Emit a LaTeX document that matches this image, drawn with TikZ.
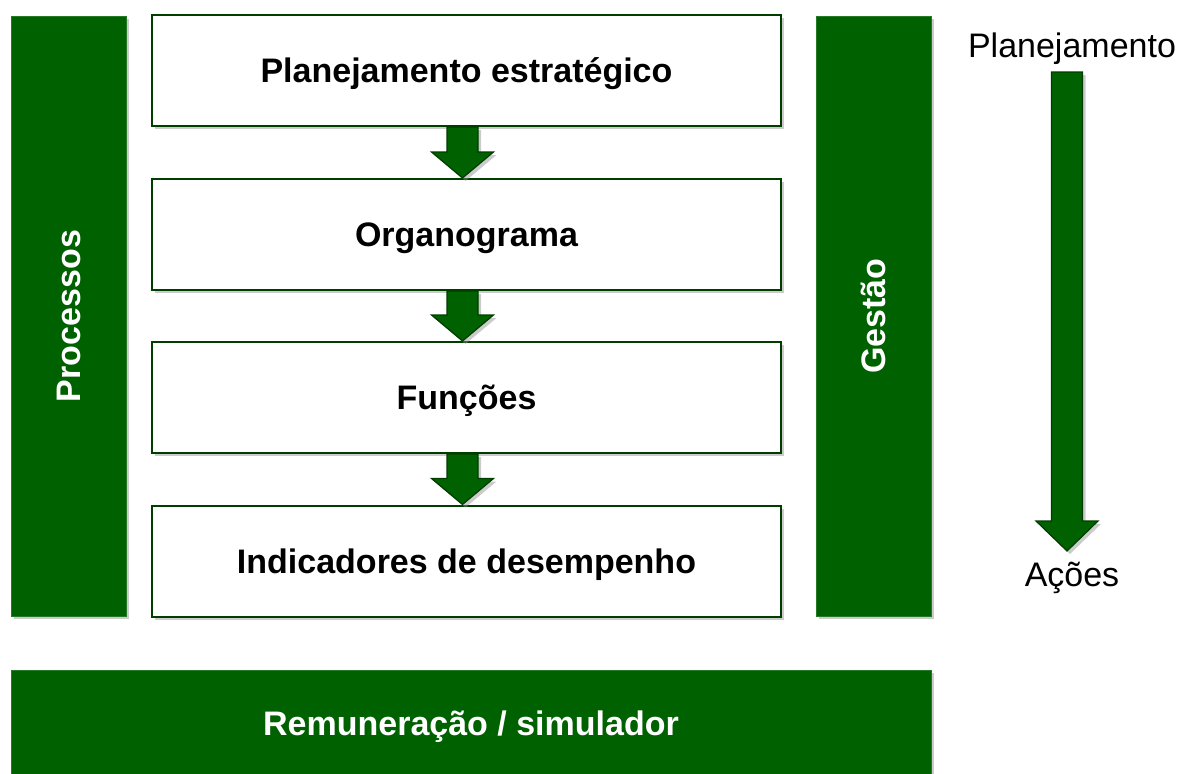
\documentclass[tikz,border=0pt]{standalone}
\usepackage{fontspec}
\setmainfont{Liberation Sans}
\usetikzlibrary{calc,shadows}

\definecolor{barGreen}{RGB}{0,97,0}
\definecolor{edgeGreen}{RGB}{0,62,0}

% block arrow from one anchor down to another (head length as #3, x offset as #4)
\newcommand{\flowarrow}[4]{%
  \path[flow] let \p1=(#1), \p2=(#2) in
    (\x1+#4-15.5pt,\y1) -- (\x1+#4+15.5pt,\y1) -- (\x1+#4+15.5pt,\y2+#3)
    -- (\x1+#4+31pt,\y2+#3) -- (\x1+#4,\y2) -- (\x1+#4-31pt,\y2+#3)
    -- (\x1+#4-15.5pt,\y2+#3) -- cycle;}

\begin{document}
\begin{tikzpicture}[x=1pt, y=-1pt,
    shade/.style={drop shadow={shadow xshift=3pt, shadow yshift=-3pt, fill=black!45, opacity=0.45}},
    bar/.style={shade, fill=barGreen, draw=barGreen!85!white, line width=0.6pt, inner sep=0pt,
      text=white, text depth=0pt, font=\fontsize{34}{40}\selectfont\bfseries},
    stepbox/.style={shade, fill=white, draw=edgeGreen, line width=2pt, inner sep=0pt, text depth=0pt,
      minimum width=629pt, minimum height=111pt, font=\fontsize{34}{40}\selectfont\bfseries},
    flow/.style={shade, fill=barGreen, draw=edgeGreen, line width=1.2pt, line join=miter},
    plain/.style={font=\fontsize{34}{40}\selectfont, inner sep=0pt},
    sidelabel/.style={rotate=90, text=white, text depth=0pt, font=\fontsize{34}{40}\selectfont\bfseries}]

    \useasboundingbox (0,0) rectangle (1184,774);

    % Side bars
    \node[bar, minimum width=115pt, minimum height=600pt] (processos) at (68.5,316) {};
    \node[sidelabel] at (processos.center) {Processos};
    \node[bar, minimum width=115pt, minimum height=600pt] (gestao) at (873.5,316) {};
    \node[sidelabel] at (gestao.center) {Gestão};

    % Bottom bar
    \node[bar, minimum width=920pt, minimum height=106pt] (remun) at (471,723) {Remuneração / simulador};

    % Steps
    \node[stepbox] (plano) at (466.5,70.5) {Planejamento estratégico};
    \node[stepbox] (organo) at (466.5,234.5) {Organograma};
    \node[stepbox] (funcoes) at (466.5,397.5) {Funções};
    \node[stepbox] (indic) at (466.5,561) {Indicadores de desempenho};

    % Arrows between steps
    \flowarrow{plano.south}{organo.north}{26pt}{-4pt}
    \flowarrow{organo.south}{funcoes.north}{26pt}{-4pt}
    \flowarrow{funcoes.south}{indic.north}{26pt}{-4pt}

    % Planejamento -> Acoes
    \node[plain] (planej) at (1072,49) {Planejamento};
    \node[plain] (acoes) at (1072,578) {Ações};
    \coordinate (top) at (1067,72);
    \coordinate (tip) at (1067,551);
    \flowarrow{top}{tip}{30pt}{0pt}

\end{tikzpicture}
\end{document}
